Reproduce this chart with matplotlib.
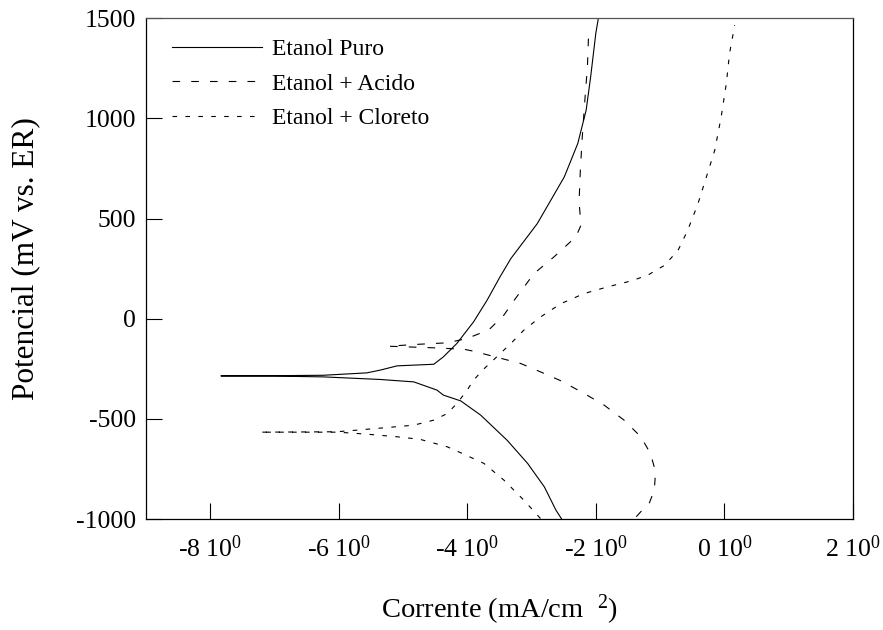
import matplotlib
matplotlib.use("Agg")
import matplotlib.pyplot as plt
from matplotlib.ticker import FuncFormatter

# Potentiodynamic curves, log(i) vs potential
puro_x = [-2.53, -2.62, -2.80, -3.06, -3.38, -3.79, -4.10, -4.37, -4.47, -4.83,
          -5.35, -6.24, -7.00, -7.83, -7.00, -6.24, -5.56, -5.35, -5.09, -4.52,
          -4.37, -4.16, -3.90, -3.69, -3.49, -3.32, -2.91, -2.49, -2.28, -2.15,
          -2.08, -2.00, -1.96]
puro_y = [-1000, -955, -839, -722, -606, -481, -410, -381, -356, -315,
          -303, -290, -286, -285, -284, -282, -270, -256, -235, -227,
          -190, -123, -15, 93, 209, 301, 475, 708, 875, 1041,
          1207, 1424, 1500]

acido_x = [-1.37, -1.30, -1.17, -1.09, -1.07, -1.15, -1.30, -1.56, -1.87, -2.18,
           -2.54, -2.86, -3.17, -3.90, -4.05, -4.52, -5.22, -4.80, -4.31, -4.00,
           -3.74, -3.64, -3.43, -3.25, -2.96, -2.65, -2.31, -2.23, -2.26, -2.24,
           -2.21, -2.17, -2.13, -2.11]
acido_y = [-988, -963, -922, -855, -764, -672, -589, -506, -431, -373,
           -310, -265, -223, -162, -152, -145, -137, -128, -120, -98,
           -65, -48, 18, 101, 226, 309, 409, 467, 583, 742,
           908, 1091, 1257, 1440]

cloreto_x = [-2.86, -3.12, -3.43, -3.74, -4.05, -4.31, -4.73, -5.09, -5.56, -5.87,
             -6.03, -7.22, -6.03, -5.72, -5.25, -4.83, -4.52, -4.31, -4.16, -4.00,
             -3.90, -3.74, -3.53, -3.32, -3.12, -2.86, -2.54, -2.18, -1.82, -1.45,
             -1.19, -0.93, -0.72, -0.57, -0.41, -0.28, -0.15, -0.05, 0.03, 0.08, 0.16]
cloreto_y = [-997, -905, -805, -722, -676, -639, -602, -589, -576, -569,
             -566, -566, -564, -556, -543, -531, -506, -473, -423, -356,
             -306, -250, -187, -123, -57, 9, 76, 126, 159, 189,
             218, 267, 342, 442, 575, 708, 841, 1007, 1174, 1324, 1465]

labels = ["Etanol Puro", "Etanol + Acido", "Etanol + Cloreto"]
x_ticks = [-8, -6, -4, -2, 0, 2]
y_ticks = [-1000, -500, 0, 500, 1000, 1500]

plt.rcParams["font.family"] = ["Liberation Serif", "DejaVu Serif"]
plt.rcParams["mathtext.fontset"] = "custom"
plt.rcParams["mathtext.rm"] = "Liberation Serif"
plt.rcParams["mathtext.it"] = "Liberation Serif"
plt.rcParams["lines.scale_dashes"] = False

fig = plt.figure(figsize=(8.83, 6.30), dpi=100)
ax = fig.add_axes([0.165, 0.176, 0.801, 0.795])

ax.plot(puro_x, puro_y, color="black", lw=0.8, label=labels[0])
ax.plot(acido_x, acido_y, color="black", lw=0.8, dashes=(5.5, 8.0), label=labels[1])
ax.plot(cloreto_x, cloreto_y, color="black", lw=0.8, dashes=(3.3, 6.0), label=labels[2])

ax.set_xlim(-9, 2)
ax.set_ylim(-1000, 1500)
ax.set_xticks(x_ticks)
ax.set_yticks(y_ticks)
ax.xaxis.set_major_formatter(FuncFormatter(lambda v, p: f"{v:g} 10$^{{0}}$"))
ax.yaxis.set_major_formatter(FuncFormatter(lambda v, p: f"{v:g}"))
ax.tick_params(direction="in", length=11.5, width=0.8, labelsize=18.5)
ax.tick_params(axis="x", pad=12)
ax.tick_params(axis="y", pad=7)
for s in ax.spines.values():
    s.set_linewidth(0.9)
ax.spines["top"].set_color("#555555")

ax.set_xlabel("Corrente (mA/cm  $^{2}$)", fontsize=20.5)
ax.set_ylabel("Potencial (mV vs. ER)", fontsize=22.5)
ax.xaxis.set_label_coords(0.5, -0.147)
ax.yaxis.set_label_coords(-0.149, 0.52)

ax.legend(loc="upper left", bbox_to_anchor=(0.037, 0.96), frameon=False,
          fontsize=17, handlelength=3.8, handletextpad=0.45, labelspacing=0.56,
          borderpad=0, borderaxespad=0)

fig.savefig("out.png", dpi=100)
